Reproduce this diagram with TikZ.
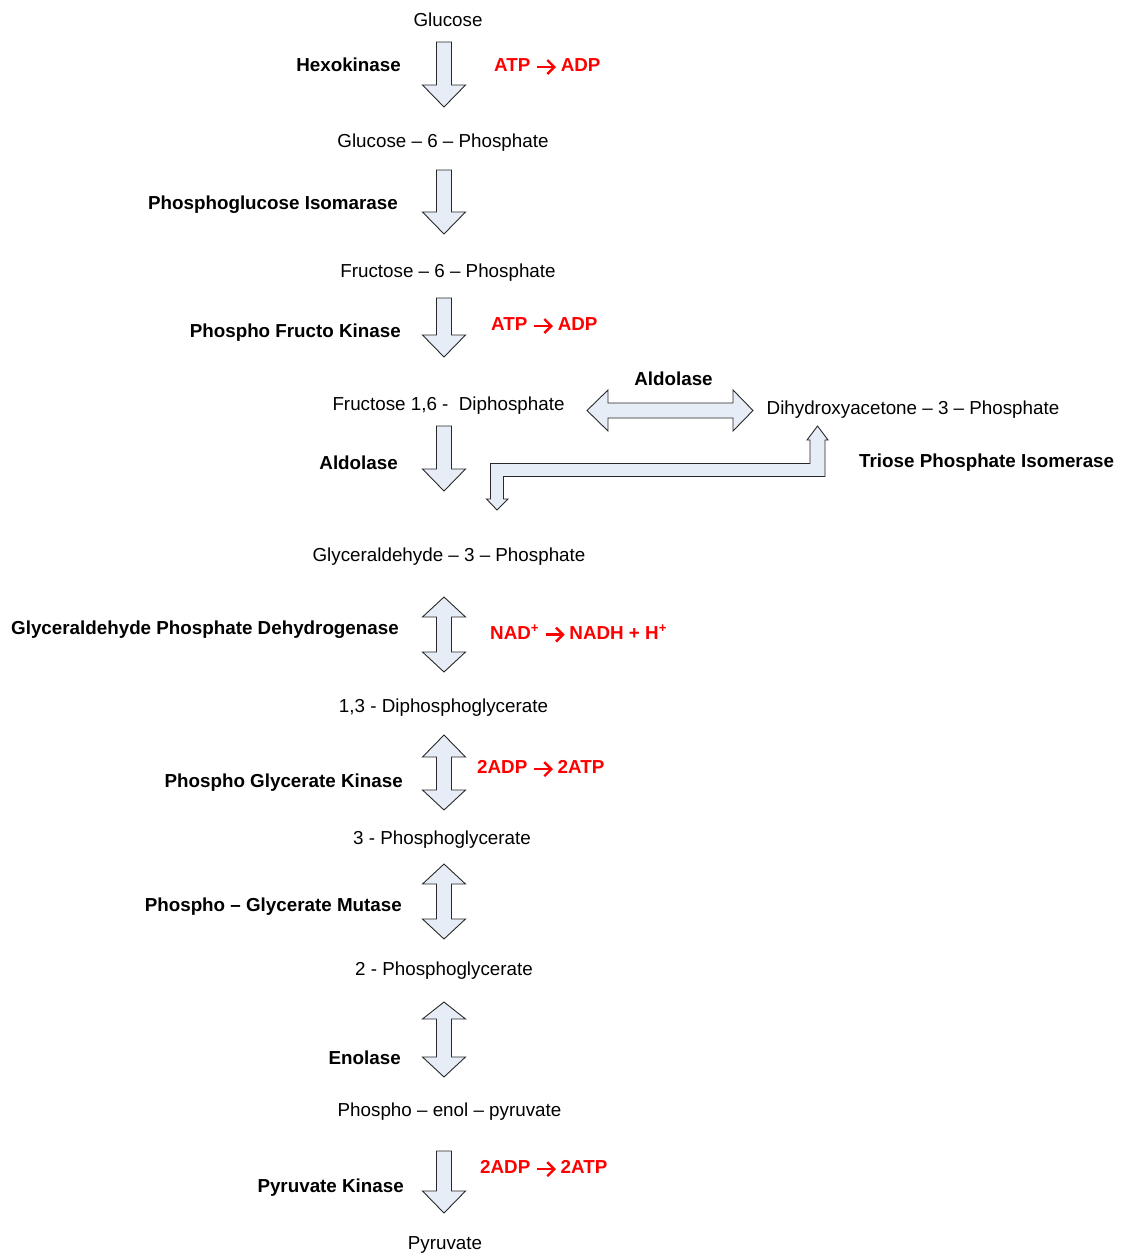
\documentclass[tikz,border=0pt]{standalone}
\usepackage{fontspec}
\setmainfont{Liberation Sans}
\definecolor{blockfill}{RGB}{231,237,247}
\definecolor{blockline}{RGB}{40,40,40}
\definecolor{cofactor}{RGB}{255,0,0}
% heavy reaction arrow used inside the cofactor labels
\newcommand{\rto}{\tikz[baseline={(0pt,-4.6pt)}]{%
  \draw[cofactor,line width=2.4pt] (0pt,0pt) -- (17pt,0pt);
  \draw[cofactor,line width=2.4pt,line join=miter,miter limit=3] (10.5pt,7pt) -- (17.5pt,0pt) -- (10.5pt,-7pt);}}
% single downward block arrow: centre x, top, head base, tip
\newcommand{\downblock}[4]{%
  \draw[blk] ({#1-7.5},{-#2}) -- ({#1+7.5},{-#2}) -- ({#1+7.5},{-#3}) -- ({#1+21.5},{-#3})
    -- ({#1},{-#4}) -- ({#1-21.5},{-#3}) -- ({#1-7.5},{-#3}) -- cycle;}
% up-down block arrow: centre x, upper tip, upper head base, lower head base, lower tip
\newcommand{\updownblock}[5]{%
  \draw[blk] ({#1},{-#2}) -- ({#1+21.5},{-#3}) -- ({#1+7.5},{-#3}) -- ({#1+7.5},{-#4})
    -- ({#1+21.5},{-#4}) -- ({#1},{-#5}) -- ({#1-21.5},{-#4}) -- ({#1-7.5},{-#4})
    -- ({#1-7.5},{-#3}) -- ({#1-21.5},{-#3}) -- cycle;}
\begin{document}
\begin{tikzpicture}[x=1pt,y=1pt,
  blk/.style={draw=blockline,fill=blockfill,line width=0.9pt,line join=miter},
  metab/.style={font=\fontsize{18.8}{22}\selectfont,inner sep=0pt,yshift=-2pt},
  enzyme/.style={font=\fontsize{18.8}{22}\selectfont\bfseries,inner sep=0pt,yshift=-2pt},
  cof/.style={font=\fontsize{18.8}{22}\selectfont\bfseries,text=cofactor,inner sep=0pt,anchor=west,yshift=-2pt}]
\useasboundingbox (0,0) rectangle (1125,-1256);

% metabolites
\node[metab] (glc)  at (448,-18) {Glucose};
\node[metab] (g6p)  at (443,-141) {Glucose – 6 – Phosphate};
\node[metab] (f6p)  at (448,-271) {Fructose – 6 – Phosphate};
\node[metab] (fdp)  at (448.5,-404) {Fructose 1,6 -\ \ Diphosphate};
\node[metab] (dhap) at (913,-408) {Dihydroxyacetone – 3 – Phosphate};
\node[metab] (gap)  at (449,-555) {Glyceraldehyde – 3 – Phosphate};
\node[metab] (bpg)  at (443.5,-706) {1,3 - Diphosphoglycerate};
\node[metab] (pg3)  at (442,-838) {3 - Phosphoglycerate};
\node[metab] (pg2)  at (444,-969) {2 - Phosphoglycerate};
\node[metab] (pep)  at (449.5,-1110) {Phospho – enol – pyruvate};
\node[metab] (pyr)  at (445,-1243) {Pyruvate};

% enzymes
\node[enzyme,anchor=east] (hk)   at (401,-63) {Hexokinase};
\node[enzyme,anchor=east] (pgi)  at (398,-203) {Phosphoglucose Isomarase};
\node[enzyme,anchor=east] (pfk)  at (401,-331) {Phospho Fructo Kinase};
\node[enzyme] (ald1) at (673.5,-377) {Aldolase};
\node[enzyme,anchor=east] (ald2) at (398,-461) {Aldolase};
\node[enzyme,anchor=west] (tpi)  at (859,-461) {Triose Phosphate Isomerase};
\node[enzyme,anchor=east] (gapdh) at (399,-628) {Glyceraldehyde Phosphate Dehydrogenase};
\node[enzyme,anchor=east] (pgk)  at (403,-781) {Phospho Glycerate Kinase};
\node[enzyme,anchor=east] (pgm)  at (402,-905) {Phospho – Glycerate Mutase};
\node[enzyme,anchor=east] (eno)  at (401,-1056) {Enolase};
\node[enzyme,anchor=east] (pk)   at (404,-1186) {Pyruvate Kinase};

% cofactors
\node[cof] (c1) at (494,-65) {ATP \rto{} ADP};
\node[cof] (c2) at (491,-324) {ATP \rto{} ADP};
\node[cof] (c3) at (490,-632) {NAD\textsuperscript{+} \rto{} NADH + H\textsuperscript{+}};
\node[cof] (c4) at (477,-767) {2ADP \rto{} 2ATP};
\node[cof] (c5) at (480,-1167) {2ADP \rto{} 2ATP};

% block arrows along the main pathway
\downblock{444}{42}{85}{107}
\downblock{444}{170}{212}{234}
\downblock{444}{298}{335}{357}
\downblock{444}{426}{469}{491}
\updownblock{444}{597}{617}{652}{672}
\updownblock{444}{735}{757}{790}{810}
\updownblock{444}{864}{884}{919}{939}
\updownblock{444}{1002}{1019}{1057}{1077}
\downblock{444}{1151}{1191}{1213}

% aldolase split: two-headed horizontal arrow
\draw[blk] (587,-410.5) -- (608,-390) -- (608,-403) -- (733,-403) -- (733,-390)
  -- (753,-410.5) -- (733,-431) -- (733,-418) -- (608,-418) -- (608,-431) -- cycle;

% triose phosphate isomerase: bent two-headed arrow
\draw[blk] (817.5,-426) -- (828,-440) -- (825,-440) -- (825,-476.5) -- (503.5,-476.5)
  -- (503.5,-499) -- (508,-499) -- (497,-510) -- (486.5,-499) -- (490.5,-499)
  -- (490.5,-463.5) -- (810,-463.5) -- (810,-440) -- (807,-440) -- cycle;
\end{tikzpicture}
\end{document}
